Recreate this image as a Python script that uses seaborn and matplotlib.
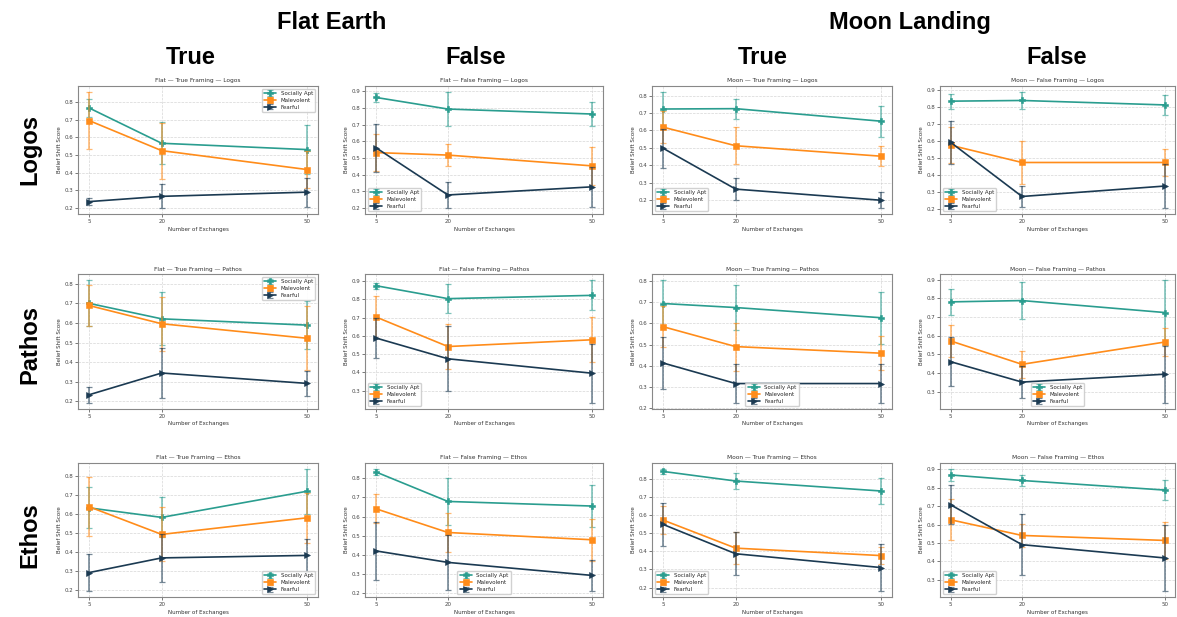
import numpy as np
import pandas as pd
import matplotlib
matplotlib.use("Agg")
import matplotlib.pyplot as plt
from matplotlib.legend_handler import HandlerTuple
import seaborn as sns

# Experimental grid
topics = ["Flat", "Moon"]
framings = ["True", "False"]
appeals = ["Logos", "Pathos", "Ethos"]
personas = ["Socially Apt", "Malevolent", "Fearful"]
exchanges = [5, 20, 50]

# Mean belief shift per (appeal, topic, framing, persona) at 5 / 20 / 50 exchanges
means = {
    ("Logos", "Flat", "True"): {
        "Socially Apt": [0.769, 0.567, 0.531],
        "Malevolent": [0.697, 0.525, 0.417],
        "Fearful": [0.234, 0.264, 0.288],
    },
    ("Logos", "Flat", "False"): {
        "Socially Apt": [0.864, 0.794, 0.764],
        "Malevolent": [0.532, 0.517, 0.452],
        "Fearful": [0.562, 0.277, 0.326],
    },
    ("Logos", "Moon", "True"): {
        "Socially Apt": [0.723, 0.725, 0.653],
        "Malevolent": [0.619, 0.512, 0.452],
        "Fearful": [0.498, 0.263, 0.199],
    },
    ("Logos", "Moon", "False"): {
        "Socially Apt": [0.832, 0.836, 0.810],
        "Malevolent": [0.574, 0.473, 0.473],
        "Fearful": [0.591, 0.274, 0.335],
    },
    ("Pathos", "Flat", "True"): {
        "Socially Apt": [0.700, 0.621, 0.589],
        "Malevolent": [0.689, 0.596, 0.522],
        "Fearful": [0.234, 0.345, 0.292],
    },
    ("Pathos", "Flat", "False"): {
        "Socially Apt": [0.875, 0.804, 0.822],
        "Malevolent": [0.704, 0.542, 0.579],
        "Fearful": [0.589, 0.475, 0.396],
    },
    ("Pathos", "Moon", "True"): {
        "Socially Apt": [0.694, 0.675, 0.627],
        "Malevolent": [0.585, 0.491, 0.460],
        "Fearful": [0.414, 0.317, 0.317],
    },
    ("Pathos", "Moon", "False"): {
        "Socially Apt": [0.781, 0.788, 0.724],
        "Malevolent": [0.572, 0.447, 0.566],
        "Fearful": [0.461, 0.352, 0.394],
    },
    ("Ethos", "Flat", "True"): {
        "Socially Apt": [0.632, 0.582, 0.719],
        "Malevolent": [0.638, 0.493, 0.580],
        "Fearful": [0.293, 0.370, 0.383],
    },
    ("Ethos", "Flat", "False"): {
        "Socially Apt": [0.833, 0.679, 0.655],
        "Malevolent": [0.641, 0.517, 0.479],
        "Fearful": [0.421, 0.361, 0.293],
    },
    ("Ethos", "Moon", "True"): {
        "Socially Apt": [0.840, 0.787, 0.732],
        "Malevolent": [0.572, 0.417, 0.376],
        "Fearful": [0.548, 0.386, 0.310],
    },
    ("Ethos", "Moon", "False"): {
        "Socially Apt": [0.869, 0.839, 0.787],
        "Malevolent": [0.626, 0.541, 0.514],
        "Fearful": [0.707, 0.491, 0.419],
    },
}

# Half-width of the error bars, same layout as the means
errors = {
    ("Logos", "Flat", "True"): {
        "Socially Apt": [0.050, 0.120, 0.140],
        "Malevolent": [0.165, 0.160, 0.105],
        "Fearful": [0.018, 0.068, 0.082],
    },
    ("Logos", "Flat", "False"): {
        "Socially Apt": [0.027, 0.105, 0.071],
        "Malevolent": [0.110, 0.066, 0.114],
        "Fearful": [0.145, 0.080, 0.120],
    },
    ("Logos", "Moon", "True"): {
        "Socially Apt": [0.100, 0.057, 0.090],
        "Malevolent": [0.092, 0.107, 0.058],
        "Fearful": [0.112, 0.065, 0.046],
    },
    ("Logos", "Moon", "False"): {
        "Socially Apt": [0.044, 0.052, 0.060],
        "Malevolent": [0.104, 0.124, 0.078],
        "Fearful": [0.126, 0.060, 0.130],
    },
    ("Pathos", "Flat", "True"): {
        "Socially Apt": [0.117, 0.135, 0.122],
        "Malevolent": [0.104, 0.138, 0.162],
        "Fearful": [0.040, 0.128, 0.065],
    },
    ("Pathos", "Flat", "False"): {
        "Socially Apt": [0.017, 0.079, 0.082],
        "Malevolent": [0.114, 0.125, 0.124],
        "Fearful": [0.110, 0.177, 0.161],
    },
    ("Pathos", "Moon", "True"): {
        "Socially Apt": [0.109, 0.105, 0.122],
        "Malevolent": [0.098, 0.113, 0.079],
        "Fearful": [0.124, 0.090, 0.090],
    },
    ("Pathos", "Moon", "False"): {
        "Socially Apt": [0.070, 0.100, 0.172],
        "Malevolent": [0.085, 0.072, 0.073],
        "Fearful": [0.130, 0.087, 0.152],
    },
    ("Ethos", "Flat", "True"): {
        "Socially Apt": [0.107, 0.105, 0.117],
        "Malevolent": [0.155, 0.141, 0.131],
        "Fearful": [0.097, 0.127, 0.088],
    },
    ("Ethos", "Flat", "False"): {
        "Socially Apt": [0.016, 0.124, 0.110],
        "Malevolent": [0.075, 0.101, 0.110],
        "Fearful": [0.150, 0.145, 0.082],
    },
    ("Ethos", "Moon", "True"): {
        "Socially Apt": [0.014, 0.044, 0.073],
        "Malevolent": [0.075, 0.088, 0.048],
        "Fearful": [0.118, 0.118, 0.130],
    },
    ("Ethos", "Moon", "False"): {
        "Socially Apt": [0.033, 0.030, 0.055],
        "Malevolent": [0.110, 0.060, 0.100],
        "Fearful": [0.105, 0.166, 0.180],
    },
}

legend_locs = {
    ("Logos", "Flat", "True"): "upper right",
    ("Logos", "Flat", "False"): "lower left",
    ("Logos", "Moon", "True"): "lower left",
    ("Logos", "Moon", "False"): "lower left",
    ("Pathos", "Flat", "True"): "upper right",
    ("Pathos", "Flat", "False"): "lower left",
    ("Pathos", "Moon", "True"): "lower center",
    ("Pathos", "Moon", "False"): "lower center",
    ("Ethos", "Flat", "True"): "lower right",
    ("Ethos", "Flat", "False"): "lower center",
    ("Ethos", "Moon", "True"): "lower left",
    ("Ethos", "Moon", "False"): "lower left",
}

palette = {"Socially Apt": "#2a9d8f", "Malevolent": "#ff8c1a", "Fearful": "#1b3a52"}
marker_map = {"Socially Apt": "P", "Malevolent": "s", "Fearful": ">"}

sns.set_theme(style="ticks")
plt.rcParams["font.family"] = ["DejaVu Sans"]

fig = plt.figure(figsize=(11.77, 6.17), dpi=100)

col_left = [0.0663, 0.3101, 0.5540, 0.7986]
col_width = [0.2039, 0.2022, 0.2039, 0.2000]
row_bottom = [0.6530, 0.3375, 0.0320]
row_height = [0.2080, 0.2180, 0.2180]

columns = [(t, f) for t in topics for f in framings]

for r, appeal in enumerate(appeals):
    for c, (topic, framing) in enumerate(columns):
        key = (appeal, topic, framing)
        ax = fig.add_axes([col_left[c], row_bottom[r], col_width[c], row_height[r]])

        rows = []
        for p in personas:
            for x, m, e in zip(exchanges, means[key][p], errors[key][p]):
                rows.append({"Exchanges": x, "Score": m, "Err": e, "Persona": p})
        df = pd.DataFrame(rows)

        handles = []
        for p in personas:
            sub = df[df["Persona"] == p]
            n_before = len(ax.lines)
            sns.lineplot(data=sub, x="Exchanges", y="Score", color=palette[p],
                         marker=marker_map[p],
                         markersize=5.0 if p != "Malevolent" else 3.8,
                         markeredgewidth=0.4, markeredgecolor=palette[p],
                         linewidth=1.2, ax=ax, errorbar=None, legend=False)
            line = ax.lines[n_before]
            eb = ax.errorbar(sub["Exchanges"], sub["Score"], yerr=sub["Err"],
                             fmt="none", ecolor=palette[p], elinewidth=1.2,
                             capsize=2.2, capthick=0.9, alpha=0.6)
            handles.append((eb, line))

        ax.set_xticks(exchanges)
        ax.set_xticklabels([str(x) for x in exchanges])
        ax.yaxis.set_major_locator(matplotlib.ticker.MultipleLocator(0.1))
        ax.yaxis.set_major_formatter(matplotlib.ticker.FormatStrFormatter("%.1f"))
        ax.tick_params(labelsize=4, length=2, width=0.5, pad=1.5, colors="#444444")
        ax.grid(True, linestyle="--", linewidth=0.5, color="#cccccc", alpha=0.8)
        for s in ax.spines.values():
            s.set_color("#888888")
            s.set_linewidth(0.8)
        ax.set_title(f"{topic} \u2014 {framing} Framing \u2014 {appeal}", fontsize=4.2,
                     pad=2.5, color="#333333")
        ax.set_xlabel("Number of Exchanges", fontsize=4, labelpad=2, color="#333333")
        ax.set_ylabel("Belief Shift Score", fontsize=4, labelpad=2, color="#333333")

        ax.legend(handles=handles, labels=personas, loc=legend_locs[key],
                  fontsize=4, handler_map={tuple: HandlerTuple(ndivide=1)},
                  handlelength=2.2, frameon=True, borderpad=0.4,
                  labelspacing=0.35, framealpha=0.9, edgecolor="#cccccc")

big = dict(family=["Liberation Sans", "DejaVu Sans"], fontweight="bold",
           ha="center", va="center", color="black")
fig.text(0.282, 0.964, "Flat Earth", fontsize=17, **big)
fig.text(0.773, 0.964, "Moon Landing", fontsize=17, **big)
for x, label in zip([0.162, 0.404, 0.648, 0.898], ["True", "False", "True", "False"]):
    fig.text(x, 0.906, label, fontsize=17, **big)
for y, label in zip([0.757, 0.441, 0.133], appeals):
    fig.text(0.0255, y, label, fontsize=17, rotation=90, **big)

fig.savefig("out.png", dpi=100)
